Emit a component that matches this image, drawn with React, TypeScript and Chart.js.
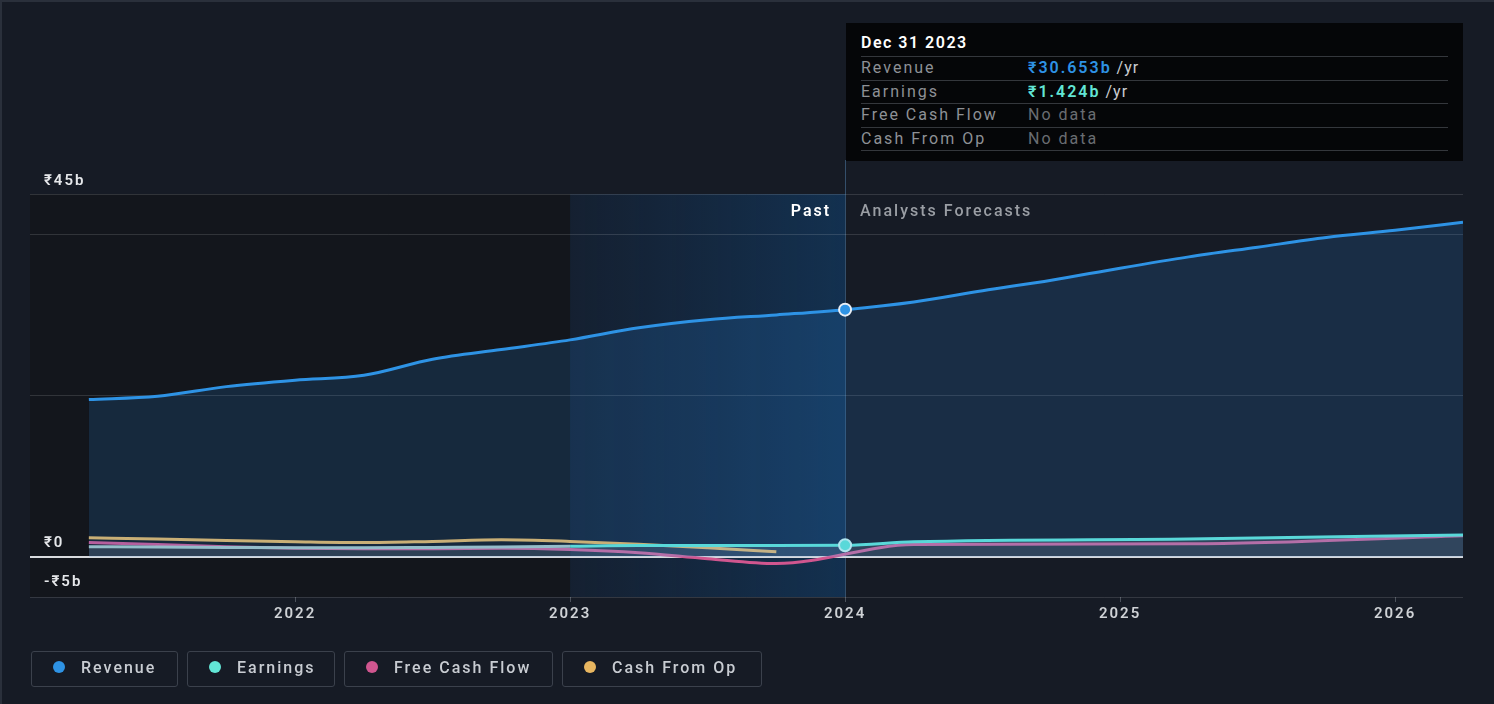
import React, { useEffect, useRef } from 'react';
import { Chart, registerables } from 'chart.js';

Chart.register(...registerables);

// ---- data (₹ billions, x = decimal year) ----
const pastDates = [2021.25, 2021.5, 2021.75, 2022.0, 2022.25, 2022.5, 2022.75, 2023.0, 2023.25, 2023.5, 2023.75, 2024.0];
const revenuePast = [19.5, 19.9, 21.1, 21.9, 22.5, 24.5, 25.7, 26.9, 28.4, 29.4, 30.0, 30.653];
const earningsPast = [1.25, 1.2, 1.15, 1.1, 1.1, 1.15, 1.2, 1.3, 1.4, 1.4, 1.4, 1.424];

const fcfDates = [2021.25, 2021.5, 2021.75, 2022.0, 2022.25, 2022.5, 2022.75, 2023.0, 2023.25, 2023.5, 2023.75];
const fcfPast = [1.75, 1.5, 1.25, 1.05, 1.0, 1.0, 1.05, 0.9, 0.5, -0.25, -0.85];
const cfoPast = [2.35, 2.2, 2.0, 1.85, 1.75, 1.9, 2.1, 1.9, 1.55, 1.1, 0.6];

const revForecastDates = [2024.25, 2024.5, 2024.75, 2025.0, 2025.25, 2025.5, 2025.75, 2026.0, 2026.247];
const revenueForecast = [31.6, 33.0, 34.3, 35.8, 37.2, 38.4, 39.6, 40.5, 41.5];
const annualForecastDates = [2024.25, 2025.25, 2026.247];
const earningsForecast = [1.85, 2.2, 2.7];
const fcfForecast = [1.5, 1.6, 2.6];

const xTicks = [2022, 2023, 2024, 2025, 2026];
const yGrid = [-5, 0, 20, 40, 45];
const yLabels = [
  { v: 45, t: '₹45b', off: -13 },
  { v: 0, t: '₹0', off: -13 },
  { v: -5, t: '-₹5b', off: -15 },
];
const X_MIN = 2021.036;
const X_MAX = 2026.247;
const PAST_START = 2023.0;
const TODAY = 2024.0;

const C_REV = '#2e93e5';
const C_EARN = '#62e6d6';
const C_EARN_OLD = '#a8c6c4';
const C_FCF = '#d0568f';
const C_CFO = '#e8b660';
const BG = '#161b25';
const FONT = 'Roboto, "DejaVu Sans", sans-serif';

const legendItems = [
  { label: 'Revenue', color: C_REV, width: 147 },
  { label: 'Earnings', color: C_EARN, width: 148 },
  { label: 'Free Cash Flow', color: C_FCF, width: 209 },
  { label: 'Cash From Op', color: C_CFO, width: 200 },
];

const tooltipRows = [
  { label: 'Revenue', value: '₹30.653b', color: C_REV, suffix: ' /yr' },
  { label: 'Earnings', value: '₹1.424b', color: C_EARN, suffix: ' /yr' },
  { label: 'Free Cash Flow', value: 'No data', color: '#6a6d72', suffix: '' },
  { label: 'Cash From Op', value: 'No data', color: '#6a6d72', suffix: '' },
];

const zip = (xs: number[], ys: number[]) => xs.map((x, i) => ({ x, y: ys[i] }));

const bgPlugin = {
  id: 'bgRegions',
  beforeDraw(chart: any) {
    const { ctx, chartArea } = chart;
    const xs = chart.scales.x;
    const { top, bottom, left } = chartArea;
    const x23 = xs.getPixelForValue(PAST_START);
    const x24 = xs.getPixelForValue(TODAY);
    ctx.save();
    ctx.fillStyle = '#13161c';
    ctx.fillRect(left, top, x23 - left, bottom - top);
    const g = ctx.createLinearGradient(x23, 0, x24, 0);
    g.addColorStop(0, 'rgba(15,75,140,0.12)');
    g.addColorStop(1, 'rgba(15,85,150,0.38)');
    ctx.fillStyle = g;
    ctx.fillRect(x23, top, x24 - x23, bottom - top);
    ctx.strokeStyle = 'rgba(55,85,115,0.9)';
    ctx.lineWidth = 1;
    ctx.beginPath();
    ctx.moveTo(Math.round(x24) + 0.5, 160);
    ctx.lineTo(Math.round(x24) + 0.5, bottom);
    ctx.stroke();
    ctx.restore();
    ctx.letterSpacing = '2px';
  },
  afterDraw(chart: any) {
    const { ctx, chartArea } = chart;
    const xs = chart.scales.x;
    const ys = chart.scales.y;
    const x24 = xs.getPixelForValue(TODAY);
    ctx.save();
    ctx.letterSpacing = '2px';
    ctx.textBaseline = 'middle';
    ctx.font = `600 15px ${FONT}`;
    ctx.fillStyle = '#e6e8eb';
    ctx.textAlign = 'left';
    yLabels.forEach((l) => {
      ctx.fillText(l.t, chartArea.left + 14, ys.getPixelForValue(l.v) + l.off);
    });
    ctx.textAlign = 'right';
    ctx.fillStyle = '#ffffff';
    ctx.font = `600 16px ${FONT}`;
    ctx.fillText('Past', x24 - 14, chartArea.top + 18);
    ctx.textAlign = 'left';
    ctx.font = `500 16px ${FONT}`;
    ctx.fillStyle = '#9a9ea4';
    ctx.fillText('Analysts Forecasts', x24 + 15, chartArea.top + 18);
    ctx.restore();
  },
};

function ChartCanvas() {
  const ref = useRef<HTMLCanvasElement | null>(null);
  useEffect(() => {
    if (!ref.current) return;
    const dot = (c: any) => (c.raw && c.raw.x === TODAY ? 6 : 0);
    const chart = new Chart(ref.current, {
      type: 'line',
      data: {
        datasets: [
          {
            label: 'Revenue',
            data: [...zip(pastDates, revenuePast), ...zip(revForecastDates, revenueForecast)],
            borderColor: C_REV,
            borderWidth: 3,
            backgroundColor: 'rgba(45,140,235,0.16)',
            fill: 'origin',
            cubicInterpolationMode: 'monotone',
            pointRadius: dot,
            pointBackgroundColor: C_REV,
            pointBorderColor: '#e8eef5',
            pointBorderWidth: 2,
          },
          {
            label: 'Earnings',
            data: [...zip(pastDates, earningsPast), ...zip(annualForecastDates, earningsForecast)],
            borderColor: C_EARN,
            borderWidth: 3,
            backgroundColor: 'rgba(200,205,215,0.16)',
            fill: 'origin',
            cubicInterpolationMode: 'monotone',
            segment: {
              borderColor: (s: any) => (s.p1.parsed.x <= PAST_START ? C_EARN_OLD : C_EARN),
            },
            pointRadius: dot,
            pointBackgroundColor: C_EARN,
            pointBorderColor: '#c8f5ef',
            pointBorderWidth: 2,
          },
          {
            label: 'Free Cash Flow',
            data: [...zip(fcfDates, fcfPast), ...zip(annualForecastDates, fcfForecast)],
            borderColor: C_FCF,
            borderWidth: 3,
            fill: false,
            cubicInterpolationMode: 'monotone',
            pointRadius: 0,
          },
          {
            label: 'Cash From Op',
            data: zip(fcfDates, cfoPast),
            borderColor: C_CFO,
            borderWidth: 3,
            fill: false,
            cubicInterpolationMode: 'monotone',
            pointRadius: 0,
          },
        ],
      },
      options: {
        animation: false,
        responsive: false,
        devicePixelRatio: 1,
        layout: { padding: { left: 30, right: 31, top: 194, bottom: 67 } },
        plugins: { legend: { display: false }, tooltip: { enabled: false } },
        scales: {
          x: {
            type: 'linear',
            min: X_MIN,
            max: X_MAX,
            afterBuildTicks: (s: any) => {
              s.ticks = xTicks.map((v) => ({ value: v }));
            },
            afterFit: (s: any) => {
              s.height = 40;
            },
            ticks: {
              callback: (v: any) => String(v),
              color: '#cfd2d6',
              font: { family: FONT, size: 15, weight: '600' },
              padding: 3,
              maxRotation: 0,
            },
            grid: { drawOnChartArea: false, drawTicks: true, tickLength: 5, color: '#4a505a' },
            border: { display: false },
          },
          y: {
            type: 'linear',
            min: -5,
            max: 45,
            afterBuildTicks: (s: any) => {
              s.ticks = yGrid.map((v) => ({ value: v }));
            },
            afterFit: (s: any) => {
              s.width = 0;
            },
            ticks: { display: false },
            grid: {
              drawTicks: false,
              color: (c: any) => (c.tick && c.tick.value === 0 ? '#d8dadd' : 'rgba(255,255,255,0.13)'),
              lineWidth: (c: any) => (c.tick && c.tick.value === 0 ? 2 : 1),
            },
            border: { display: false },
          },
        },
      },
      plugins: [bgPlugin],
    } as any);
    return () => chart.destroy();
  }, []);
  return <canvas ref={ref} width={1494} height={704} style={{ position: 'absolute', left: 0, top: 0, width: 1494, height: 704 }} />;
}

export default function App() {
  return (
    <div
      style={{
        position: 'fixed',
        left: 0,
        top: 0,
        width: 1494,
        height: 704,
        background: BG,
        fontFamily: FONT,
        overflow: 'hidden',
        boxShadow: 'inset 2px 2px 0 #2a303b',
      }}
    >
      <ChartCanvas />
      {/* tooltip */}
      <div
        style={{
          position: 'absolute',
          left: 846,
          top: 23,
          width: 617,
          height: 138,
          background: '#050608',
          letterSpacing: '2px',
          fontSize: 16,
        }}
      >
        <div style={{ position: 'absolute', left: 15, top: 9, color: '#ffffff', fontWeight: 600, lineHeight: '22px', letterSpacing: '1.5px' }}>
          Dec 31 2023
        </div>
        {tooltipRows.map((r, i) => (
          <div
            key={r.label}
            style={{
              position: 'absolute',
              left: 15,
              width: 587,
              top: 33 + i * 23.5,
              height: 23.5,
              borderTop: '1px solid #34373c',
              boxSizing: 'border-box',
              lineHeight: '21px',
            }}
          >
            <span style={{ position: 'absolute', left: 0, color: '#8e9196' }}>{r.label}</span>
            <span style={{ position: 'absolute', left: 167, whiteSpace: 'pre' }}>
              <span style={{ color: r.color, fontWeight: r.suffix ? 600 : 400 }}>{r.value}</span>
              <span style={{ color: '#c9ccd0', letterSpacing: '1px' }}>{r.suffix}</span>
            </span>
          </div>
        ))}
        <div style={{ position: 'absolute', left: 15, width: 587, top: 127, borderTop: '1px solid #34373c' }} />
      </div>
      {/* legend */}
      <div style={{ position: 'absolute', left: 31, top: 651, display: 'flex', gap: 9 }}>
        {legendItems.map((it) => (
          <div
            key={it.label}
            style={{
              width: it.width,
              height: 36,
              boxSizing: 'border-box',
              border: '1px solid #3b414c',
              borderRadius: 3,
              display: 'flex',
              alignItems: 'center',
              paddingLeft: 21,
              paddingBottom: 4,
              color: '#c8ccd2',
              fontSize: 16,
              fontWeight: 500,
              letterSpacing: '2px',
            }}
          >
            <span
              style={{
                width: 12,
                height: 12,
                borderRadius: 6,
                background: it.color,
                marginRight: 16,
                flex: 'none',
              }}
            />
            {it.label}
          </div>
        ))}
      </div>
    </div>
  );
}
